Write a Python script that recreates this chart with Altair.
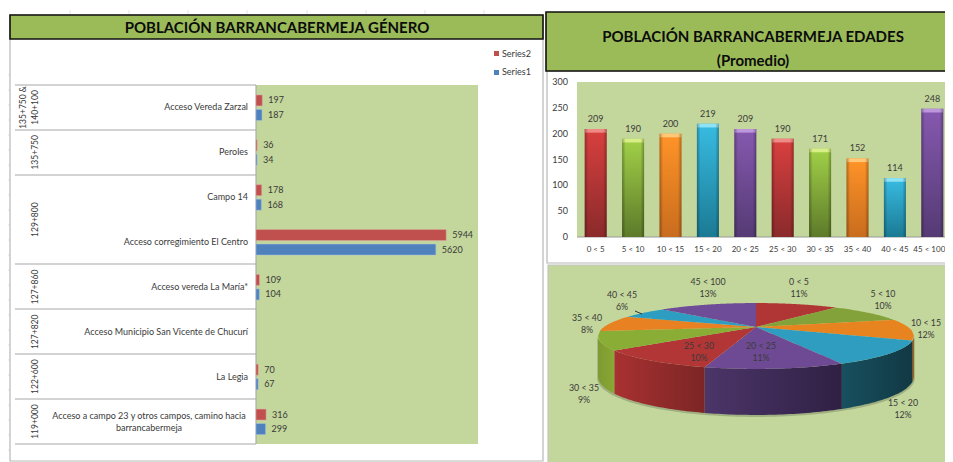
import math
import altair as alt
import pandas as pd

# ---------- data ----------
road_cats = ["Acceso Vereda Zarzal", "Peroles", "Campo 14", "Acceso corregimiento El Centro",
             "Acceso vereda La María*", "Acceso Municipio San Vicente de Chucurí", "La Legia",
             "Acceso a campo 23 y otros campos, camino hacia\nbarrancabermeja"]
series2 = [197, 36, 178, 5944, 109, None, 70, 316]
series1 = [187, 34, 168, 5620, 104, None, 67, 299]
group_labels = ["135+750 &|140+100", "135+750", "129+800", "127+860", "127+820", "122+600", "119+000"]
group_spans = [1, 1, 2, 1, 1, 1, 1]
age_cats = ["0 < 5", "5 < 10", "10 < 15", "15 < 20", "20 < 25", "25 < 30", "30 < 35", "35 < 40", "40 < 45", "45 < 100"]
age_vals = [209, 190, 200, 219, 209, 190, 171, 152, 114, 248]
age_pct = ["11%", "10%", "12%", "12%", "11%", "10%", "9%", "8%", "6%", "13%"]

# ---------- layout (page pixels) ----------
OX, OY = 8, 8
FONT = "Lato"
TXT = "#3a3a3a"
GREEN_BG = "#c3d69b"
TITLE_BG = "#9bbb59"
SMALL = 9
one = pd.DataFrame({"a": [0]})
layers = []


def box(x1, y1, x2, y2, fill=None, stroke=None, sw=1):
    kw = {"fill": fill if fill else "transparent"}
    if stroke:
        kw.update(stroke=stroke, strokeWidth=sw)
    layers.append(alt.Chart(one).mark_rect(**kw).encode(
        x=alt.value(x1 - OX), x2=alt.value(x2 - OX), y=alt.value(y1 - OY), y2=alt.value(y2 - OY)))


def line(x1, y1, x2, y2, color, sw=1):
    layers.append(alt.Chart(one).mark_rule(color=color, strokeWidth=sw).encode(
        x=alt.value(x1 - OX), x2=alt.value(x2 - OX), y=alt.value(y1 - OY), y2=alt.value(y2 - OY)))


def label(x, y, s, size=SMALL, align="center", weight="normal", color=TXT):
    layers.append(alt.Chart(pd.DataFrame({"t": [s]})).mark_text(
        font=FONT, fontSize=size, align=align, baseline="middle", fontWeight=weight,
        color=color).encode(x=alt.value(x - OX), y=alt.value(y - OY), text="t:N"))


# spreadsheet grid remnants
for gx in [70, 129, 188, 247, 307, 366, 425, 484]:
    line(gx, 10, gx, 14, "#e4e4e4")
for gy in range(75, 461, 15):
    line(5, gy, 10, gy, "#e4e4e4")

# ---------- left panel ----------
box(10, 15, 543, 461, "#ffffff", "#b8b8b8", 1.2)
box(10, 15, 543, 39, TITLE_BG, "#111111", 1.6)
label(277, 28, "POBLACIÓN BARRANCABERMEJA GÉNERO", size=15, weight="bold", color="#0c0c0c")
box(256, 85, 478, 444, GREEN_BG)
for ly in [85, 130, 175, 264, 309, 354, 399, 444]:
    line(15, ly, 256, ly, "#a8a8a8", 1.1)
line(256, 85, 256, 444, "#a8a8a8", 1.1)

# legend
box(494, 51, 499, 56, "#c0504d")
label(502, 54, "Series2", align="left")
box(494, 70, 499, 75, "#4f81bd")
label(502, 72, "Series1", align="left")

# bars
x_left = alt.Scale(domain=[0, 7000], range=[256 - OX, 256 - OX + 224], nice=False, zero=True)


def band_scale(shift):
    return alt.Scale(domain=road_cats, range=[85 - OY + shift, 444 - OY + shift], paddingInner=0, paddingOuter=0)


for vals, col, shift in [(series2, "#c0504d", -7), (series1, "#4f81bd", 7.5)]:
    d = pd.DataFrame({"cat": road_cats, "v": vals}).dropna()
    d["v"] = d["v"].astype(int)
    layers.append(alt.Chart(d).mark_bar(size=11, color=col, stroke="#dcb0a8" if col == "#c0504d" else "#a8c0dc",
                                        strokeWidth=0.5).encode(
        x=alt.X("v:Q", scale=x_left, axis=None),
        y=alt.Y("cat:N", sort=road_cats, scale=band_scale(shift), axis=None)))
    layers.append(alt.Chart(d).mark_text(font=FONT, fontSize=SMALL, align="left", dx=6, color=TXT).encode(
        x=alt.X("v:Q", scale=x_left, axis=None),
        y=alt.Y("cat:N", sort=road_cats, scale=band_scale(shift), axis=None),
        text="v:Q"))

# category labels
plain = pd.DataFrame({"cat": road_cats[:-1]})
layers.append(alt.Chart(plain).mark_text(font=FONT, fontSize=SMALL, align="right", color=TXT).encode(
    x=alt.value(248 - OX),
    y=alt.Y("cat:N", sort=road_cats, scale=band_scale(0), axis=None),
    text="cat:N"))
layers.append(alt.Chart(pd.DataFrame({"cat": road_cats[-1:]})).mark_text(
    font=FONT, fontSize=SMALL, align="center", baseline="middle", color=TXT, lineBreak="\n", lineHeight=12).encode(
    x=alt.value(149 - OX),
    y=alt.Y("cat:N", sort=road_cats, scale=band_scale(-6), axis=None),
    text="cat:N"))

# group labels (rotated)
y_group = alt.Scale(domain=[0, 8], range=[85 - OY, 444 - OY], nice=False, zero=False)
acc = 0
for lab, s in zip(group_labels, group_spans):
    parts = lab.split("|")
    xs = [23, 35] if len(parts) == 2 else [34.5]
    for part, gx in zip(parts, xs):
        layers.append(alt.Chart(pd.DataFrame({"t": [part], "m": [acc + s / 2]})).mark_text(
            font=FONT, fontSize=8.5, angle=270, align="center", baseline="middle", color=TXT).encode(
            x=alt.value(gx - OX),
            y=alt.Y("m:Q", scale=y_group, axis=None),
            text="t:N"))
    acc += s

# ---------- right top panel ----------
box(547, 71, 960, 263, "#ffffff", "#b8b8b8", 1.2)
box(546, 12, 960, 71, TITLE_BG, "#111111", 1.6)
label(753, 37, "POBLACIÓN BARRANCABERMEJA EDADES", size=15, weight="bold", color="#0c0c0c")
label(753, 61, "(Promedio)", size=15, weight="bold", color="#0c0c0c")
box(577, 82, 953, 237, GREEN_BG)
line(577, 237, 953, 237, "#9a9a9a", 1)

x_age = alt.Scale(domain=age_cats, range=[577 - OX, 951 - OX], paddingInner=0, paddingOuter=0)
y_age = alt.Scale(domain=[0, 300], range=[237 - OY, 82 - OY], nice=False, zero=True)

bar_palette = [("#d9403f", "#8a2a2b", "#f08a86"),
               ("#a2d148", "#5d7a2a", "#d8ee86"),
               ("#ff9428", "#c86c1e", "#ffc878"),
               ("#38bce2", "#1b7a94", "#8ee2f6"),
               ("#8659b0", "#553a74", "#bd96dd")]
ages = pd.DataFrame({"cat": age_cats, "v": age_vals, "pal": [i % 5 for i in range(len(age_cats))]})
ages["cap"] = ages["v"] - 7


def vgrad(top, bottom):
    return alt.LinearGradient(gradient="linear", x1=0, x2=0, y1=0, y2=1,
                              stops=[alt.GradientStop(color=top, offset=0), alt.GradientStop(color=bottom, offset=1)])


for i, (top, bot, capc) in enumerate(bar_palette):
    d = ages[ages["pal"] == i]
    layers.append(alt.Chart(d).mark_bar(size=22, color=vgrad(top, bot)).encode(
        x=alt.X("cat:N", sort=age_cats, scale=x_age, axis=None),
        y=alt.Y("v:Q", scale=y_age, axis=None)))
    layers.append(alt.Chart(d).mark_bar(size=22, color=capc).encode(
        x=alt.X("cat:N", sort=age_cats, scale=x_age, axis=None),
        y=alt.Y("v:Q", scale=y_age, axis=None),
        y2="cap:Q"))
edge = alt.LinearGradient(gradient="linear", x1=0, x2=1, y1=0, y2=0, stops=[
    alt.GradientStop(color="rgba(0,0,0,0.30)", offset=0),
    alt.GradientStop(color="rgba(0,0,0,0)", offset=0.16),
    alt.GradientStop(color="rgba(0,0,0,0)", offset=0.84),
    alt.GradientStop(color="rgba(0,0,0,0.30)", offset=1)])
layers.append(alt.Chart(ages).mark_bar(size=22, color=edge).encode(
    x=alt.X("cat:N", sort=age_cats, scale=x_age, axis=None),
    y=alt.Y("v:Q", scale=y_age, axis=None)))
layers.append(alt.Chart(ages).mark_text(font=FONT, fontSize=SMALL, dy=-10, color=TXT).encode(
    x=alt.X("cat:N", sort=age_cats, scale=x_age, axis=None),
    y=alt.Y("v:Q", scale=y_age, axis=None),
    text="v:Q"))
# the last tick label is nudged so that it stays inside the drawable page
for cats_part, nudge in [(age_cats[:-1], 0), (age_cats[-1:], -3)]:
    layers.append(alt.Chart(pd.DataFrame({"cat": cats_part})).mark_text(
        font=FONT, fontSize=8, color=TXT, dx=nudge).encode(
        x=alt.X("cat:N", sort=age_cats, scale=x_age, axis=None),
        y=alt.value(250 - OY),
        text="cat:N"))
layers.append(alt.Chart(pd.DataFrame({"v": [0, 50, 100, 150, 200, 250, 300]})).mark_text(
    font=FONT, fontSize=SMALL, align="right", color=TXT).encode(
    x=alt.value(568 - OX),
    y=alt.Y("v:Q", scale=y_age, axis=None),
    text="v:Q"))

# ---------- right bottom panel: perspective pie ----------
box(548, 265, 960, 470, GREEN_BG, "#c4c4c4", 1.2)

CX, CY = 756, 327           # apex of the pie on the page
K, A, B = 0.2727, 30.5, 152


def project(phi):
    u, v = math.sin(phi), -math.cos(phi)
    den = 1 - K * v
    return B * u / den, A * v / den, v


def depth(v):
    return 38 + 8 * v


x_pie = alt.Scale(domain=[-160, 160], range=[CX - 160 - OX, CX + 160 - OX], nice=False, zero=False)
y_pie = alt.Scale(domain=[-40, 100], range=[CY - 40 - OY, CY + 100 - OY], nice=False, zero=False)


def area_layer(df, fill):
    layers.append(alt.Chart(df).mark_area(fill=fill, orient="vertical").encode(
        x=alt.X("x:Q", scale=x_pie, axis=None),
        y=alt.Y("y:Q", scale=y_pie, axis=None, stack=None),
        y2="y2:Q"))


def hgrad(a, b):
    return alt.LinearGradient(gradient="linear", x1=0, x2=1, y1=0, y2=0,
                              stops=[alt.GradientStop(color=a, offset=0), alt.GradientStop(color=b, offset=1)])


total = sum(age_vals)
bounds = [0]
for v in age_vals:
    bounds.append(bounds[-1] + v / total * 2 * math.pi)

phi_r = math.acos(-K)
phi_l = 2 * math.pi - phi_r
side_fill = {2: "#a85c1a", 3: hgrad("#17505f", "#123844"), 4: hgrad("#4c3569", "#2f2044"),
             5: hgrad("#a93131", "#7c2525"), 6: hgrad("#7c9a30", "#8aa836")}
top_fill = ["#b03535", "#84a23a", "#e8841f", "#2f9dbf", "#6e4a94",
            "#b33636", "#8aad36", "#e78122", "#2d9ec1", "#6f4c97"]

# pie shadow
phis = [phi_r + (phi_l - phi_r) * j / 90 for j in range(91)]
rows = []
for p in phis:
    X, Y, v = project(p)
    rows.append({"x": X * 1.005, "y": Y, "y2": Y + depth(v) + 2})
area_layer(pd.DataFrame(rows), "rgba(70,80,60,0.28)")

# visible wall
for i, fill in side_fill.items():
    a, b = max(bounds[i], phi_r), min(bounds[i + 1], phi_l)
    rows = []
    for j in range(41):
        X, Y, v = project(a + (b - a) * j / 40)
        rows.append({"x": X, "y": Y, "y2": Y + depth(v)})
    area_layer(pd.DataFrame(rows), fill)


def sector(a, b, fill):
    pts = [(0.0, 0.0)] + [project(a + (b - a) * j / 40)[:2] for j in range(41)]
    xs = [p[0] for p in pts]
    lo, hi = min(xs), max(xs)
    rows = []
    n = 80
    for j in range(n + 1):
        x = lo + (hi - lo) * j / n
        x = min(max(x, lo + 1e-6), hi - 1e-6)
        ys = []
        for q in range(len(pts)):
            (x1, y1), (x2, y2) = pts[q], pts[(q + 1) % len(pts)]
            if (x1 - x) * (x2 - x) <= 0 and x1 != x2:
                ys.append(y1 + (y2 - y1) * (x - x1) / (x2 - x1))
        rows.append({"x": x, "y": min(ys), "y2": max(ys)})
    area_layer(pd.DataFrame(rows), fill)


for i in range(len(age_vals)):
    sector(bounds[i], bounds[i + 1], top_fill[i])

pie_label_pos = [(799, 282), (883, 294), (926, 323), (903, 403), (761, 346),
                 (699, 346), (584, 388), (587, 318), (622, 295), (708, 282)]
for (lx, ly), c, p in zip(pie_label_pos, age_cats, age_pct):
    label(lx, ly, c, size=8.8)
    label(lx, ly + 12.3, p, size=8.8)
line(635, 311, 642, 314, "#222222", 0.9)

chart = alt.layer(*layers).resolve_scale(x="independent", y="independent").properties(
    width=937, height=454, padding=0, background="white",
    autosize=alt.AutoSizeParams(type="none")
).configure_view(stroke=None)

chart.save("out.html", embed_options={"renderer": "svg", "actions": False})
